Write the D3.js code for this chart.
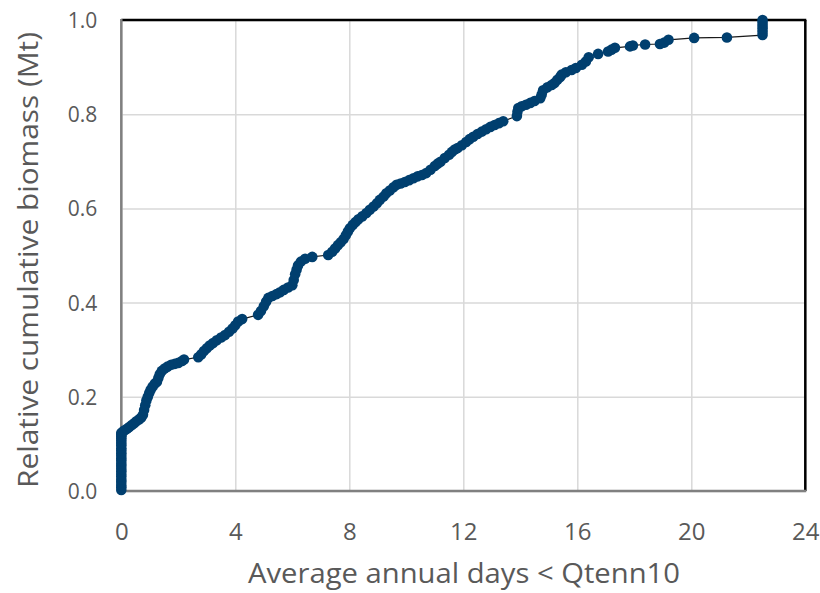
<!DOCTYPE html>
<html>
<head>
<meta charset="utf-8">
<script src="https://cdn.jsdelivr.net/npm/d3@7"></script>
<style>
  html, body { margin: 0; padding: 0; background: #fff; }
  svg { display: block; }
  text { font-family: "Open Sans", sans-serif; fill: #595959; }
</style>
</head>
<body>
<svg id="chart" width="820" height="593"></svg>
<script>
// Data
const daysX = [
  0,0,0,0,0,0,0,0,0,0,0,0,0,0,0,0,0,0,0,0,0,0,0,0,
  0.05,0.12,0.2,0.28,0.37,0.45,0.53,0.62,0.7,0.76,0.8,0.84,0.88,0.93,0.98,1.03,1.1,1.18,1.25,1.3,1.35,1.42,1.52,1.62,1.75,1.88,2.0,2.13,2.2,
  2.7,2.8,2.9,3.0,3.1,3.22,3.35,3.5,3.64,3.78,3.9,4.0,4.1,4.24,
  4.8,4.9,5.0,5.08,5.16,5.3,5.45,5.57,5.7,5.85,6.0,6.05,6.1,6.15,6.2,6.3,6.45,6.7,
  7.26,7.4,7.5,7.6,7.7,7.8,7.88,7.95,8.02,8.12,8.22,8.32,8.45,8.6,8.72,8.85,8.97,9.07,9.2,9.3,9.42,9.55,9.66,9.8,9.95,10.1,10.25,10.4,10.55,10.7,10.85,11.0,11.1,11.2,11.35,11.5,11.6,11.7,11.8,11.95,12.1,12.22,12.35,12.5,12.65,12.8,12.95,13.1,13.25,13.4,
  13.88,13.9,13.93,14.05,14.2,14.35,14.5,14.7,14.75,14.8,14.95,15.1,15.2,15.3,15.4,15.45,15.6,15.8,15.95,16.16,16.3,16.4,16.73,17.08,17.2,17.32,17.85,17.95,18.38,18.9,19.05,19.2,20.1,21.25,
  22.5,22.5,22.5,22.5,22.5,22.5
];
const biomassY = [
  0.002,0.008,0.013,0.019,0.024,0.031,0.036,0.042,0.047,0.053,0.058,0.064,0.069,0.075,0.080,0.086,0.091,0.097,0.102,0.107,0.112,0.116,0.120,0.123,
  0.126,0.129,0.132,0.136,0.14,0.144,0.148,0.152,0.156,0.162,0.172,0.182,0.192,0.2,0.208,0.215,0.222,0.228,0.232,0.24,0.248,0.255,0.26,0.264,0.268,0.27,0.272,0.276,0.279,
  0.284,0.29,0.297,0.303,0.309,0.314,0.32,0.326,0.331,0.338,0.345,0.352,0.36,0.365,
  0.374,0.382,0.392,0.402,0.41,0.414,0.418,0.422,0.427,0.432,0.437,0.448,0.46,0.47,0.479,0.487,0.493,0.497,
  0.501,0.508,0.515,0.522,0.528,0.535,0.543,0.551,0.558,0.565,0.571,0.577,0.583,0.59,0.597,0.604,0.611,0.618,0.625,0.632,0.638,0.645,0.65,0.653,0.656,0.66,0.664,0.668,0.671,0.675,0.682,0.69,0.695,0.699,0.707,0.714,0.72,0.725,0.728,0.734,0.741,0.747,0.752,0.758,0.763,0.768,0.773,0.777,0.781,0.785,
  0.796,0.805,0.813,0.817,0.82,0.824,0.828,0.834,0.842,0.851,0.857,0.862,0.866,0.873,0.879,0.884,0.889,0.894,0.898,0.905,0.912,0.921,0.928,0.933,0.937,0.941,0.944,0.946,0.948,0.949,0.952,0.958,0.962,0.963,
  0.968,0.975,0.982,0.988,0.994,1.0
];
const xTicks = [0, 4, 8, 12, 16, 20, 24];
const yTicks = [0, 0.2, 0.4, 0.6, 0.8, 1.0];
const xTitle = "Average annual days < Qtenn10";
const yTitle = "Relative cumulative biomass (Mt)";

const points = daysX.map((d, i) => ({ x: d, y: biomassY[i] }));

const svg = d3.select("#chart");
const mLeft = 121.3, mRight = 805.3, mTop = 20, mBottom = 491;
const x = d3.scaleLinear().domain([0, 24]).range([mLeft, mRight]);
const y = d3.scaleLinear().domain([0, 1]).range([mBottom, mTop]);

// Gridlines
svg.append("g")
  .attr("transform", `translate(0,${mBottom})`)
  .call(d3.axisBottom(x).tickValues(xTicks).tickSize(-(mBottom - mTop)).tickFormat(""))
  .call(g => g.select(".domain").remove())
  .call(g => g.selectAll("line").attr("stroke", "#d9d9d9").attr("stroke-width", 1.5));
svg.append("g")
  .attr("transform", `translate(${mLeft},0)`)
  .call(d3.axisLeft(y).tickValues(yTicks).tickSize(-(mRight - mLeft)).tickFormat(""))
  .call(g => g.select(".domain").remove())
  .call(g => g.selectAll("line").attr("stroke", "#d9d9d9").attr("stroke-width", 1.5));

// Frame: top & right black
svg.append("line").attr("x1", mLeft).attr("x2", mRight + 1).attr("y1", mTop).attr("y2", mTop)
  .attr("stroke", "#000").attr("stroke-width", 2.5);
svg.append("line").attr("x1", mRight).attr("x2", mRight).attr("y1", mTop).attr("y2", mBottom)
  .attr("stroke", "#000").attr("stroke-width", 2.5);

// Tick labels via axes
svg.append("g")
  .attr("transform", `translate(0,${mBottom})`)
  .call(d3.axisBottom(x).tickValues(xTicks).tickSize(0).tickPadding(0).tickFormat(d3.format("d")))
  .call(g => g.select(".domain").remove())
  .call(g => g.selectAll("text").attr("dy", null).attr("y", 49)
    .style("font-size", "24px").style("font-family", "'Open Sans', sans-serif").attr("fill", "#595959"));
svg.append("g")
  .attr("transform", `translate(${mLeft},0)`)
  .call(d3.axisLeft(y).tickValues(yTicks).tickSize(0).tickPadding(0).tickFormat(d3.format(".1f")))
  .call(g => g.select(".domain").remove())
  .call(g => g.selectAll("text").attr("x", -24).attr("dy", "0.36em")
    .style("font-size", "21px").style("font-family", "'Open Sans', sans-serif").attr("fill", "#595959"));

// Frame: left & bottom gray
svg.append("line").attr("x1", mLeft).attr("x2", mLeft).attr("y1", mTop - 1).attr("y2", mBottom)
  .attr("stroke", "#808080").attr("stroke-width", 2.5);
svg.append("line").attr("x1", mLeft).attr("x2", mRight + 1).attr("y1", mBottom).attr("y2", mBottom)
  .attr("stroke", "#808080").attr("stroke-width", 2.5);

// Connecting line
svg.append("path")
  .datum(points)
  .attr("fill", "none")
  .attr("stroke", "#1a1a1a")
  .attr("stroke-width", 1.2)
  .attr("d", d3.line().x(d => x(d.x)).y(d => y(d.y)));

// Markers
svg.append("g").selectAll("circle")
  .data(points)
  .join("circle")
  .attr("cx", d => x(d.x))
  .attr("cy", d => y(d.y))
  .attr("r", 5.3)
  .attr("fill", "#003f6f");

// Axis titles
svg.append("text")
  .attr("x", 464)
  .attr("y", 583)
  .attr("text-anchor", "middle")
  .attr("textLength", 432)
  .attr("lengthAdjust", "spacingAndGlyphs")
  .style("font-size", "27px")
  .text(xTitle);
svg.append("text")
  .attr("transform", `translate(38,260) rotate(-90)`)
  .attr("text-anchor", "middle")
  .attr("textLength", 456)
  .attr("lengthAdjust", "spacingAndGlyphs")
  .style("font-size", "27px")
  .text(yTitle);
</script>
</body>
</html>
